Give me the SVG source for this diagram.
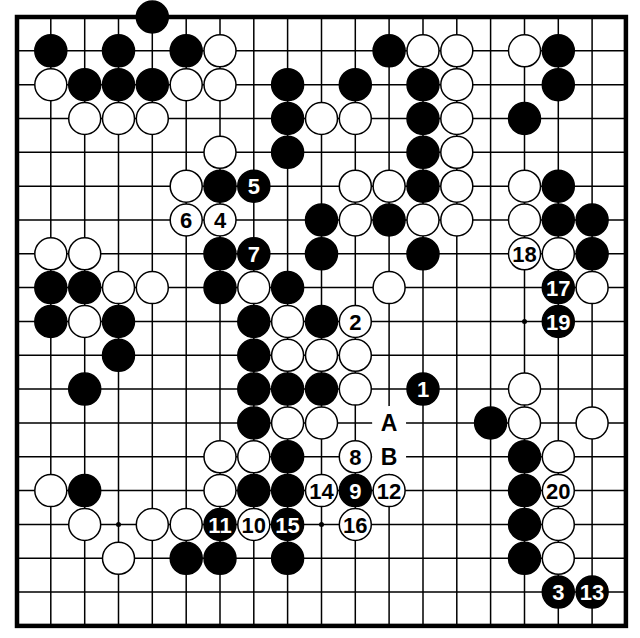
<svg xmlns="http://www.w3.org/2000/svg" width="640" height="638" viewBox="0 0 640 638">
<style>
.grid{stroke:#000;stroke-width:1.5;fill:none}
.border{stroke:#000;stroke-width:4.5;fill:none}
.b{fill:#000;stroke:#000;stroke-width:1.5}
.w{fill:#fff;stroke:#000;stroke-width:1.5}
.hoshi{fill:#000}
.gap{fill:#fff}
text{font-family:"Liberation Sans",Arial,sans-serif;font-weight:bold;font-size:22px;text-anchor:middle}
.tb{fill:#fff}
.tw{fill:#000}
.lt{font-size:23px;fill:#000}
</style>
<rect width="640" height="638" fill="#fff"/>
<g id="board">
<path class="grid" d="M50.8 17V625.9M84.7 17V625.9M118.5 17V625.9M152.3 17V625.9M186.2 17V625.9M220 17V625.9M253.8 17V625.9M287.6 17V625.9M321.5 17V625.9M355.3 17V625.9M389.1 17V625.9M423 17V625.9M456.8 17V625.9M490.6 17V625.9M524.5 17V625.9M558.3 17V625.9M592.1 17V625.9M17 50.8H625.9M17 84.7H625.9M17 118.5H625.9M17 152.3H625.9M17 186.2H625.9M17 220H625.9M17 253.8H625.9M17 287.6H625.9M17 321.5H625.9M17 355.3H625.9M17 389.1H625.9M17 423H625.9M17 456.8H625.9M17 490.6H625.9M17 524.5H625.9M17 558.3H625.9M17 592.1H625.9"/>
<rect class="border" x="17" y="17" width="608.9" height="608.9"/>
<circle class="hoshi" cx="118.5" cy="524.5" r="2.5"/>
<circle class="hoshi" cx="321.5" cy="524.5" r="2.5"/>
<circle class="hoshi" cx="524.5" cy="321.5" r="2.5"/>
</g>
<g id="stones">
<!-- row 0 -->
<circle class="b" cx="152.3" cy="17" r="16"/>
<!-- row 1 -->
<circle class="b" cx="50.8" cy="50.8" r="16"/>
<circle class="b" cx="118.5" cy="50.8" r="16"/>
<circle class="b" cx="186.2" cy="50.8" r="16"/>
<circle class="w" cx="220" cy="50.8" r="16"/>
<circle class="b" cx="389.1" cy="50.8" r="16"/>
<circle class="w" cx="423" cy="50.8" r="16"/>
<circle class="w" cx="456.8" cy="50.8" r="16"/>
<circle class="w" cx="524.5" cy="50.8" r="16"/>
<circle class="b" cx="558.3" cy="50.8" r="16"/>
<!-- row 2 -->
<circle class="w" cx="50.8" cy="84.7" r="16"/>
<circle class="b" cx="84.7" cy="84.7" r="16"/>
<circle class="b" cx="118.5" cy="84.7" r="16"/>
<circle class="b" cx="152.3" cy="84.7" r="16"/>
<circle class="w" cx="186.2" cy="84.7" r="16"/>
<circle class="w" cx="220" cy="84.7" r="16"/>
<circle class="b" cx="287.6" cy="84.7" r="16"/>
<circle class="b" cx="355.3" cy="84.7" r="16"/>
<circle class="b" cx="423" cy="84.7" r="16"/>
<circle class="w" cx="456.8" cy="84.7" r="16"/>
<circle class="b" cx="558.3" cy="84.7" r="16"/>
<!-- row 3 -->
<circle class="w" cx="84.7" cy="118.5" r="16"/>
<circle class="w" cx="118.5" cy="118.5" r="16"/>
<circle class="w" cx="152.3" cy="118.5" r="16"/>
<circle class="b" cx="287.6" cy="118.5" r="16"/>
<circle class="w" cx="321.5" cy="118.5" r="16"/>
<circle class="w" cx="355.3" cy="118.5" r="16"/>
<circle class="b" cx="423" cy="118.5" r="16"/>
<circle class="w" cx="456.8" cy="118.5" r="16"/>
<circle class="b" cx="524.5" cy="118.5" r="16"/>
<!-- row 4 -->
<circle class="w" cx="220" cy="152.3" r="16"/>
<circle class="b" cx="287.6" cy="152.3" r="16"/>
<circle class="b" cx="423" cy="152.3" r="16"/>
<circle class="w" cx="456.8" cy="152.3" r="16"/>
<!-- row 5 -->
<circle class="w" cx="186.2" cy="186.2" r="16"/>
<circle class="b" cx="220" cy="186.2" r="16"/>
<circle class="b" cx="253.8" cy="186.2" r="16"/>
<circle class="w" cx="355.3" cy="186.2" r="16"/>
<circle class="w" cx="389.1" cy="186.2" r="16"/>
<circle class="b" cx="423" cy="186.2" r="16"/>
<circle class="w" cx="456.8" cy="186.2" r="16"/>
<circle class="w" cx="524.5" cy="186.2" r="16"/>
<circle class="b" cx="558.3" cy="186.2" r="16"/>
<!-- row 6 -->
<circle class="w" cx="186.2" cy="220" r="16"/>
<circle class="w" cx="220" cy="220" r="16"/>
<circle class="b" cx="321.5" cy="220" r="16"/>
<circle class="w" cx="355.3" cy="220" r="16"/>
<circle class="b" cx="389.1" cy="220" r="16"/>
<circle class="w" cx="423" cy="220" r="16"/>
<circle class="w" cx="456.8" cy="220" r="16"/>
<circle class="w" cx="524.5" cy="220" r="16"/>
<circle class="b" cx="558.3" cy="220" r="16"/>
<circle class="b" cx="592.1" cy="220" r="16"/>
<!-- row 7 -->
<circle class="w" cx="50.8" cy="253.8" r="16"/>
<circle class="w" cx="84.7" cy="253.8" r="16"/>
<circle class="b" cx="220" cy="253.8" r="16"/>
<circle class="b" cx="253.8" cy="253.8" r="16"/>
<circle class="b" cx="321.5" cy="253.8" r="16"/>
<circle class="b" cx="423" cy="253.8" r="16"/>
<circle class="w" cx="524.5" cy="253.8" r="16"/>
<circle class="w" cx="558.3" cy="253.8" r="16"/>
<circle class="b" cx="592.1" cy="253.8" r="16"/>
<!-- row 8 -->
<circle class="b" cx="50.8" cy="287.6" r="16"/>
<circle class="b" cx="84.7" cy="287.6" r="16"/>
<circle class="w" cx="118.5" cy="287.6" r="16"/>
<circle class="w" cx="152.3" cy="287.6" r="16"/>
<circle class="b" cx="220" cy="287.6" r="16"/>
<circle class="w" cx="253.8" cy="287.6" r="16"/>
<circle class="b" cx="287.6" cy="287.6" r="16"/>
<circle class="w" cx="389.1" cy="287.6" r="16"/>
<circle class="b" cx="558.3" cy="287.6" r="16"/>
<circle class="w" cx="592.1" cy="287.6" r="16"/>
<!-- row 9 -->
<circle class="b" cx="50.8" cy="321.5" r="16"/>
<circle class="w" cx="84.7" cy="321.5" r="16"/>
<circle class="b" cx="118.5" cy="321.5" r="16"/>
<circle class="b" cx="253.8" cy="321.5" r="16"/>
<circle class="w" cx="287.6" cy="321.5" r="16"/>
<circle class="b" cx="321.5" cy="321.5" r="16"/>
<circle class="w" cx="355.3" cy="321.5" r="16"/>
<circle class="b" cx="558.3" cy="321.5" r="16"/>
<!-- row 10 -->
<circle class="b" cx="118.5" cy="355.3" r="16"/>
<circle class="b" cx="253.8" cy="355.3" r="16"/>
<circle class="w" cx="287.6" cy="355.3" r="16"/>
<circle class="w" cx="321.5" cy="355.3" r="16"/>
<circle class="w" cx="355.3" cy="355.3" r="16"/>
<!-- row 11 -->
<circle class="b" cx="84.7" cy="389.1" r="16"/>
<circle class="b" cx="253.8" cy="389.1" r="16"/>
<circle class="b" cx="287.6" cy="389.1" r="16"/>
<circle class="b" cx="321.5" cy="389.1" r="16"/>
<circle class="w" cx="355.3" cy="389.1" r="16"/>
<circle class="b" cx="423" cy="389.1" r="16"/>
<circle class="w" cx="524.5" cy="389.1" r="16"/>
<!-- row 12 -->
<circle class="b" cx="253.8" cy="423" r="16"/>
<circle class="w" cx="287.6" cy="423" r="16"/>
<circle class="w" cx="321.5" cy="423" r="16"/>
<circle class="b" cx="490.6" cy="423" r="16"/>
<circle class="w" cx="524.5" cy="423" r="16"/>
<circle class="w" cx="592.1" cy="423" r="16"/>
<!-- row 13 -->
<circle class="w" cx="220" cy="456.8" r="16"/>
<circle class="w" cx="253.8" cy="456.8" r="16"/>
<circle class="b" cx="287.6" cy="456.8" r="16"/>
<circle class="w" cx="355.3" cy="456.8" r="16"/>
<circle class="b" cx="524.5" cy="456.8" r="16"/>
<circle class="w" cx="558.3" cy="456.8" r="16"/>
<!-- row 14 -->
<circle class="w" cx="50.8" cy="490.6" r="16"/>
<circle class="b" cx="84.7" cy="490.6" r="16"/>
<circle class="w" cx="220" cy="490.6" r="16"/>
<circle class="b" cx="253.8" cy="490.6" r="16"/>
<circle class="b" cx="287.6" cy="490.6" r="16"/>
<circle class="w" cx="321.5" cy="490.6" r="16"/>
<circle class="b" cx="355.3" cy="490.6" r="16"/>
<circle class="w" cx="389.1" cy="490.6" r="16"/>
<circle class="b" cx="524.5" cy="490.6" r="16"/>
<circle class="w" cx="558.3" cy="490.6" r="16"/>
<!-- row 15 -->
<circle class="w" cx="84.7" cy="524.5" r="16"/>
<circle class="w" cx="152.3" cy="524.5" r="16"/>
<circle class="w" cx="186.2" cy="524.5" r="16"/>
<circle class="b" cx="220" cy="524.5" r="16"/>
<circle class="w" cx="253.8" cy="524.5" r="16"/>
<circle class="b" cx="287.6" cy="524.5" r="16"/>
<circle class="w" cx="355.3" cy="524.5" r="16"/>
<circle class="b" cx="524.5" cy="524.5" r="16"/>
<circle class="w" cx="558.3" cy="524.5" r="16"/>
<!-- row 16 -->
<circle class="w" cx="118.5" cy="558.3" r="16"/>
<circle class="b" cx="186.2" cy="558.3" r="16"/>
<circle class="b" cx="220" cy="558.3" r="16"/>
<circle class="b" cx="287.6" cy="558.3" r="16"/>
<circle class="b" cx="524.5" cy="558.3" r="16"/>
<circle class="w" cx="558.3" cy="558.3" r="16"/>
<!-- row 17 -->
<circle class="b" cx="558.3" cy="592.1" r="16"/>
<circle class="b" cx="592.1" cy="592.1" r="16"/>
</g>
<g id="marks">
<circle class="gap" cx="389.1" cy="423" r="17"/>
<circle class="gap" cx="389.1" cy="456.8" r="17"/>
<text class="lt" x="389.1" y="431.2">A</text>
<text class="lt" x="389.1" y="465">B</text>
</g>
<g id="numbers">
<text class="tb" x="423" y="397.1">1</text>
<text class="tw" x="355.3" y="329.5">2</text>
<text class="tb" x="558.3" y="600.1">3</text>
<text class="tw" x="220" y="228">4</text>
<text class="tb" x="253.8" y="194.2">5</text>
<text class="tw" x="186.2" y="228">6</text>
<text class="tb" x="253.8" y="261.8">7</text>
<text class="tw" x="355.3" y="464.8">8</text>
<text class="tb" x="355.3" y="498.6">9</text>
<text class="tw" x="253.8" y="532.5">10</text>
<text class="tb" x="220" y="532.5">11</text>
<text class="tw" x="389.1" y="498.6">12</text>
<text class="tb" x="592.1" y="600.1">13</text>
<text class="tw" x="321.5" y="498.6">14</text>
<text class="tb" x="287.6" y="532.5">15</text>
<text class="tw" x="355.3" y="532.5">16</text>
<text class="tb" x="558.3" y="295.6">17</text>
<text class="tw" x="524.5" y="261.8">18</text>
<text class="tb" x="558.3" y="329.5">19</text>
<text class="tw" x="558.3" y="498.6">20</text>
</g>
</svg>
